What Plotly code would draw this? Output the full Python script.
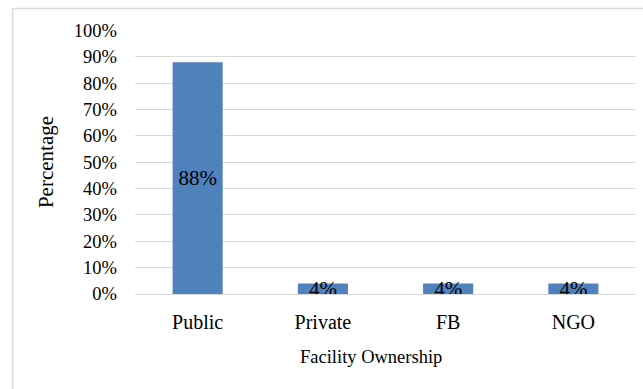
import plotly.graph_objects as go

# Facility ownership distribution
categories = ["Public", "Private", "FB", "NGO"]
percentages = [88, 4, 4, 4]
bar_labels = ["88%", "4%", "4%", "4%"]
y_ticks = list(range(0, 101, 10))
y_tick_labels = [f"{t}%" for t in y_ticks]

W, H = 643, 389
L, R, T, B = 135, 7, 30, 95
pw, ph = W - L - R, H - T - B

FONT = "'Liberation Serif', 'Times New Roman', serif"
GRID = "#d9d9d9"

fig = go.Figure(
    go.Bar(
        x=categories,
        y=percentages,
        text=bar_labels,
        textposition="inside",
        insidetextanchor="middle",
        constraintext="none",
        textfont=dict(family=FONT, size=21, color="black"),
        marker=dict(color="#4F81BD", line=dict(width=0)),
        hoverinfo="skip",
    )
)

fig.update_layout(
    width=W,
    height=H,
    margin=dict(l=L, r=R, t=T, b=B),
    paper_bgcolor="white",
    plot_bgcolor="white",
    bargap=0.6,
    showlegend=False,
    font=dict(family=FONT, color="black"),
    xaxis=dict(
        tickfont=dict(family=FONT, size=20),
        showgrid=False,
        showline=False,
        ticks="",
        ticklabelstandoff=14,
    ),
    yaxis=dict(
        title=dict(text="Percentage", font=dict(family=FONT, size=21), standoff=14),
        range=[0, 100.2],
        tickvals=y_ticks,
        ticktext=y_tick_labels,
        tickfont=dict(family=FONT, size=18.5),
        showgrid=True,
        gridcolor=GRID,
        gridwidth=1.3,
        zeroline=True,
        zerolinecolor=GRID,
        zerolinewidth=1.3,
        showline=False,
        ticks="",
        ticklabelstandoff=17,
    ),
)

# x-axis title, centred under the whole chart frame
fig.add_annotation(
    text="Facility Ownership",
    xref="paper",
    yref="paper",
    x=(371 - L) / pw,
    y=-(357 - T - ph) / ph,
    xanchor="center",
    yanchor="middle",
    showarrow=False,
    font=dict(family=FONT, size=18.5, color="black"),
)

# chart frame (left and top edges fall inside the canvas)
fig.add_shape(
    type="rect",
    xref="paper",
    yref="paper",
    x0=(12.5 - L) / pw,
    x1=(W + 20 - L) / pw,
    y0=-(H + 20 - T - ph) / ph,
    y1=(ph + T - 8.5) / ph,
    line=dict(color=GRID, width=1.5),
    fillcolor="rgba(0,0,0,0)",
    layer="below",
)

fig.write_html("out.html")
